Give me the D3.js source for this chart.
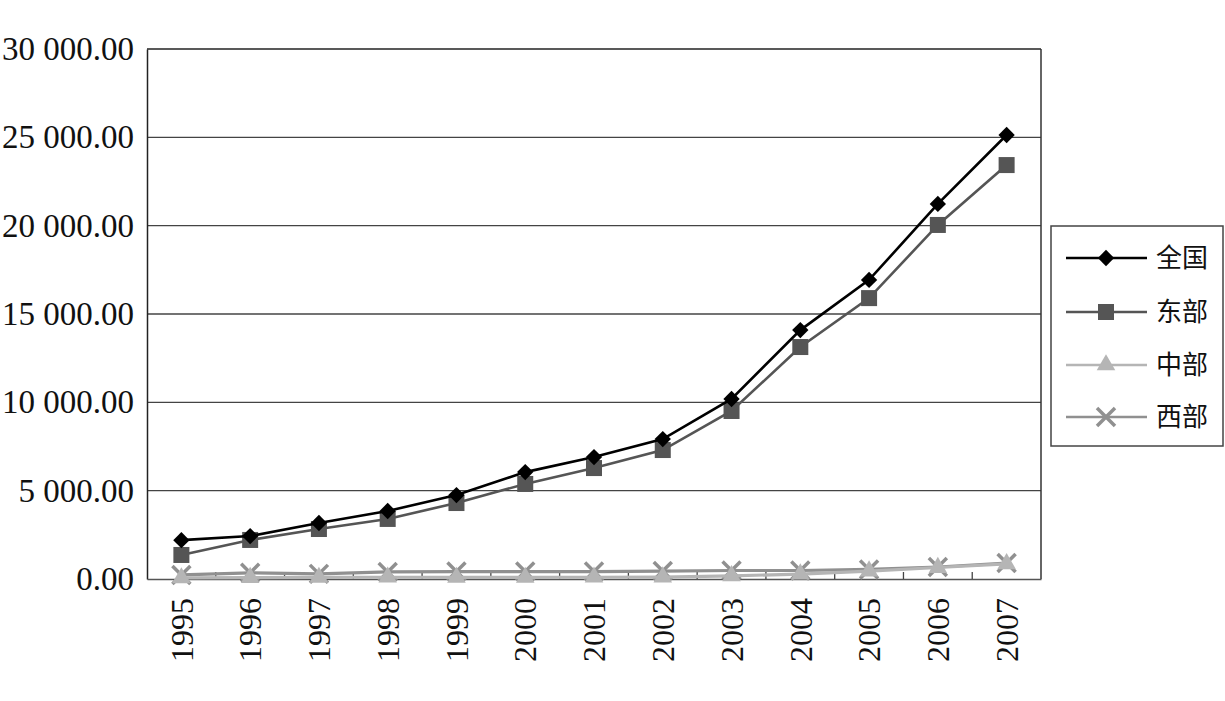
<!DOCTYPE html>
<html><head><meta charset="utf-8">
<script src="https://cdn.jsdelivr.net/npm/d3@7"></script>
<style>body{margin:0;background:#fff} text{font-family:"Liberation Serif","Times New Roman","DejaVu Serif",serif;}</style>
</head><body>
<svg id="c" width="1225" height="701"></svg>
<script>
const years = ["1995","1996","1997","1998","1999","2000","2001","2002","2003","2004","2005","2006","2007"];
const national = [2200,2430,3170,3850,4750,6050,6900,7920,10190,14090,16930,21230,25130];
const east = [1360,2210,2830,3400,4300,5380,6280,7300,9510,13130,15900,20040,23430];
const central = [60,80,90,100,90,90,100,110,180,280,450,650,860];
const west = [230,350,290,400,420,420,420,450,480,480,540,680,900];
const yTicks = [0,5000,10000,15000,20000,25000,30000];
const seriesNames = ["全国","东部","中部","西部"];

const series = [
  {name:seriesNames[0], values:national, color:"#000000", marker:"diamond"},
  {name:seriesNames[1], values:east, color:"#555555", marker:"square"},
  {name:seriesNames[2], values:central, color:"#b5b5b5", marker:"triangle"},
  {name:seriesNames[3], values:west, color:"#909090", marker:"cross"}
];

const svg = d3.select("#c");
const L=147, R=1041, T=49, B=579;
const x = d3.scaleBand().domain(years).range([L,R]);
const y = d3.scaleLinear().domain([0,30000]).range([B,T]);
const font = '"Liberation Serif","Times New Roman","DejaVu Serif",serif';
const cjk = '"Liberation Serif","Noto Sans CJK SC",serif';
const fmt = v => { const s = d3.format(",.2f")(v); return s.replace(/,/g," "); };

// gridlines
svg.append("g").selectAll("line").data(yTicks.filter(d=>d>0)).join("line")
  .attr("x1",L).attr("x2",R).attr("y1",d=>y(d)).attr("y2",d=>y(d))
  .attr("stroke",d=>d===30000?"#222":"#444").attr("stroke-width",1.3);
svg.append("line").attr("x1",R).attr("x2",R).attr("y1",T).attr("y2",B).attr("stroke","#333").attr("stroke-width",1.5);

// y axis
const ya = svg.append("g").attr("transform",`translate(${L},0)`)
  .call(d3.axisLeft(y).tickValues(yTicks).tickFormat(fmt).tickSize(0).tickPadding(13));
ya.attr("font-family",null);
ya.select(".domain").attr("stroke","#222").attr("stroke-width",1.5);
ya.selectAll("text").style("font-family",font).attr("font-size",33).attr("fill","#111");

// x axis
const xa = svg.append("g").attr("transform",`translate(0,${B})`)
  .call(d3.axisBottom(x).tickSize(0).tickPadding(0));
xa.attr("font-family",null);
xa.select(".domain").attr("stroke","#555").attr("stroke-width",1.5);
xa.selectAll("text").style("font-family",font).attr("font-size",32).attr("fill","#111")
  .attr("transform","rotate(-90)").attr("text-anchor","end").attr("dy","0.35em").attr("x",-19).attr("y",0);
svg.append("g").selectAll("line").data(years.slice(1)).join("line")
  .attr("x1",d=>x(d)).attr("x2",d=>x(d)).attr("y1",B).attr("y2",B-7)
  .attr("stroke","#444").attr("stroke-width",1.3);

const cx = d => x(d)+x.bandwidth()/2;
function drawMarker(g, type, color){
  if(type==="diamond") g.append("path").attr("d",d3.symbol(d3.symbolDiamond2,170)()).attr("fill",color);
  if(type==="square") g.append("rect").attr("x",-8).attr("y",-8).attr("width",16).attr("height",16).attr("fill",color);
  if(type==="triangle") g.append("path").attr("d",d3.symbol(d3.symbolTriangle,150)()).attr("fill",color);
  if(type==="cross") g.append("path").attr("d","M-9,-9L9,9M-9,9L9,-9").attr("stroke",color).attr("stroke-width",3.5).attr("fill","none");
}

const line = d3.line().x((d,i)=>cx(years[i])).y(d=>y(d));
[...series].reverse().forEach(s=>{
  svg.append("path").datum(s.values).attr("d",line).attr("fill","none")
    .attr("stroke",s.color).attr("stroke-width",s.marker==="diamond"||s.marker==="square"?2.6:3.2);
  s.values.forEach((v,i)=>{
    const g = svg.append("g").attr("transform",`translate(${cx(years[i])},${y(v)})`);
    drawMarker(g, s.marker, s.color);
  });
});

// legend
const lg = svg.append("g");
lg.append("rect").attr("x",1051).attr("y",226).attr("width",172).attr("height",220)
  .attr("fill","#fff").attr("stroke","#444").attr("stroke-width",1.5);
const ly = [258,312,365,417];
series.forEach((s,i)=>{
  lg.append("line").attr("x1",1066).attr("x2",1147).attr("y1",ly[i]).attr("y2",ly[i])
    .attr("stroke",s.color).attr("stroke-width",2.6);
  const g = lg.append("g").attr("transform",`translate(1106,${ly[i]})`);
  drawMarker(g, s.marker, s.color);
  lg.append("text").attr("x",1156).attr("y",ly[i]).attr("dy","0.36em")
    .style("font-family",cjk).attr("font-size",26).attr("fill","#111").text(s.name);
});
</script>
</body></html>
